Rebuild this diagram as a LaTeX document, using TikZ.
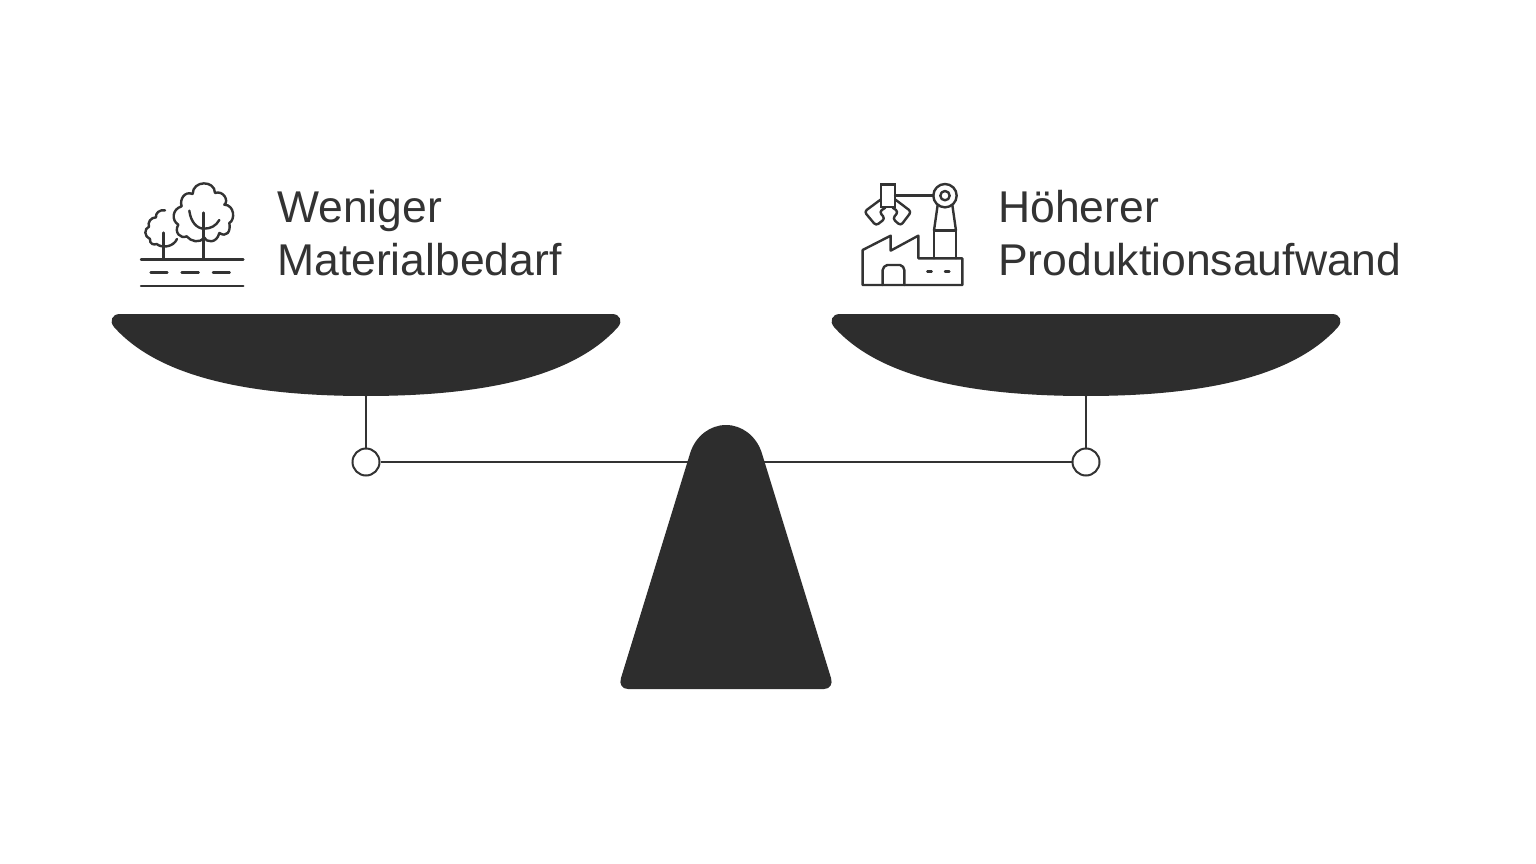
\documentclass[tikz,border=0pt]{standalone}
\usepackage{fontspec}
\setmainfont{Liberation Sans}
\usepackage{tikz}

\definecolor{scaledark}{HTML}{2D2D2D}
\definecolor{textdark}{HTML}{333333}

\begin{document}
\begin{tikzpicture}[x=1pt,y=-1pt,
	pivot/.style = {draw=textdark, circle, fill=white, line width=2pt, minimum size=27pt, inner sep=0pt},
	rod/.style = {draw=textdark, line width=2pt},
	caption/.style = {text=textdark, inner sep=0pt, anchor=west, align=left, font=\fontsize{44.5}{53}\selectfont},
	icon/.style = {x=0.3333pt, y=-0.3333pt, draw=textdark, line width=2.4pt, line cap=round, line join=round}]
	\useasboundingbox (0,0) rectangle (1536,864);
	\fill[white] (0,0) rectangle (1536,864);
	\foreach \x in {366,1086} {
		\fill[scaledark, shift={(\x,0)}] (-246,314) -- (246,314)
			.. controls (254,314) and (257,321) .. (252,327)
			.. controls (210,374) and (126,396) .. (0,396)
			.. controls (-126,396) and (-210,374) .. (-252,327)
			.. controls (-257,321) and (-254,314) .. (-246,314) -- cycle;
	}
	\coordinate (leftpan) at (366,396);
	\coordinate (rightpan) at (1086,396);
	\node[pivot] (leftpivot) at (366,462) {};
	\node[pivot] (rightpivot) at (1086,462) {};
	\draw[rod] (leftpan) -- (leftpivot);
	\draw[rod] (rightpan) -- (rightpivot);
	\draw[rod] (leftpivot) -- (rightpivot);
	\fill[scaledark] (690.5,452) .. controls (696,436) and (710,425) .. (726,425)
		.. controls (742,425) and (756,436) .. (761.5,452)
		-- (831,678) .. controls (833,684) and (830,689) .. (824,689)
		-- (628,689) .. controls (622,689) and (619,684) .. (621,678) -- cycle;
	\node[caption] (lefttext) at (277,233) {Weniger\\Materialbedarf};
	\node[caption] (righttext) at (998,233) {Höherer\\Produktionsaufwand};
	\begin{scope}[shift={(130,170)}, icon]
		\draw (33,268) -- (340,268);
		\draw (33,348) -- (340,348);
		\draw (62,308) -- (112,308);
		\draw (155,308) -- (206,308);
		\draw (249,308) -- (299,308);
		\draw (220,268) -- (220,128);
		\draw (178,122) .. controls (182,155) and (200,176) .. (222,176) .. controls (242,176) and (258,168) .. (268,150);
		\draw (188,72) .. controls (188,30) and (255,30) .. (255,69)
			.. controls (280,60) and (298,93) .. (283,104)
			.. controls (314,105) and (316,150) .. (298,159)
			.. controls (303,185) and (290,203) .. (268,189)
			.. controls (260,222) and (228,218) .. (222,202)
			.. controls (210,222) and (182,214) .. (170,199)
			.. controls (152,208) and (131,187) .. (145,164)
			.. controls (124,152) and (126,117) .. (155,109)
			.. controls (148,88) and (164,62) .. (188,72);
		\draw (100,268) -- (100,188);
		\draw (105,121) .. controls (88,118) and (76,130) .. (78,142)
			.. controls (62,142) and (52,158) .. (57,170)
			.. controls (42,176) and (42,200) .. (60,207)
			.. controls (58,222) and (72,226) .. (80,222)
			.. controls (95,235) and (130,232) .. (141,207);
	\end{scope}
	\begin{scope}[shift={(850,170)}, icon]
		\draw (38,345) -- (38,240) -- (122,197) -- (122,242) -- (205,197) -- (205,265) -- (337,265) -- (337,345) -- cycle;
		\draw (98,345) -- (98,300) to[bend left=35] (112,285) -- (150,285) to[bend left=35] (163,300) -- (163,345);
		\draw (232,304) -- (245,304);
		\draw (285,304) -- (298,304);
		\draw (252,265) -- (252,182) -- (318,182) -- (318,265);
		\draw (252,182) -- (263,105);
		\draw (318,182) -- (307,105);
		\draw (285,77) circle[radius=35];
		\draw (285,77) circle[radius=14];
		\draw (135,77) -- (250,77);
		\draw[line join=miter] (93,43) rectangle (135,111);
		\draw[rounded corners=3pt] (93,88) -- (43,125) -- (78,167) -- (105,146) -- (88,125) -- (106,113);
		\draw[rounded corners=3pt] (135,88) -- (184,125) -- (152,167) -- (128,146) -- (145,125) -- (128,113);
	\end{scope}
\end{tikzpicture}
\end{document}
